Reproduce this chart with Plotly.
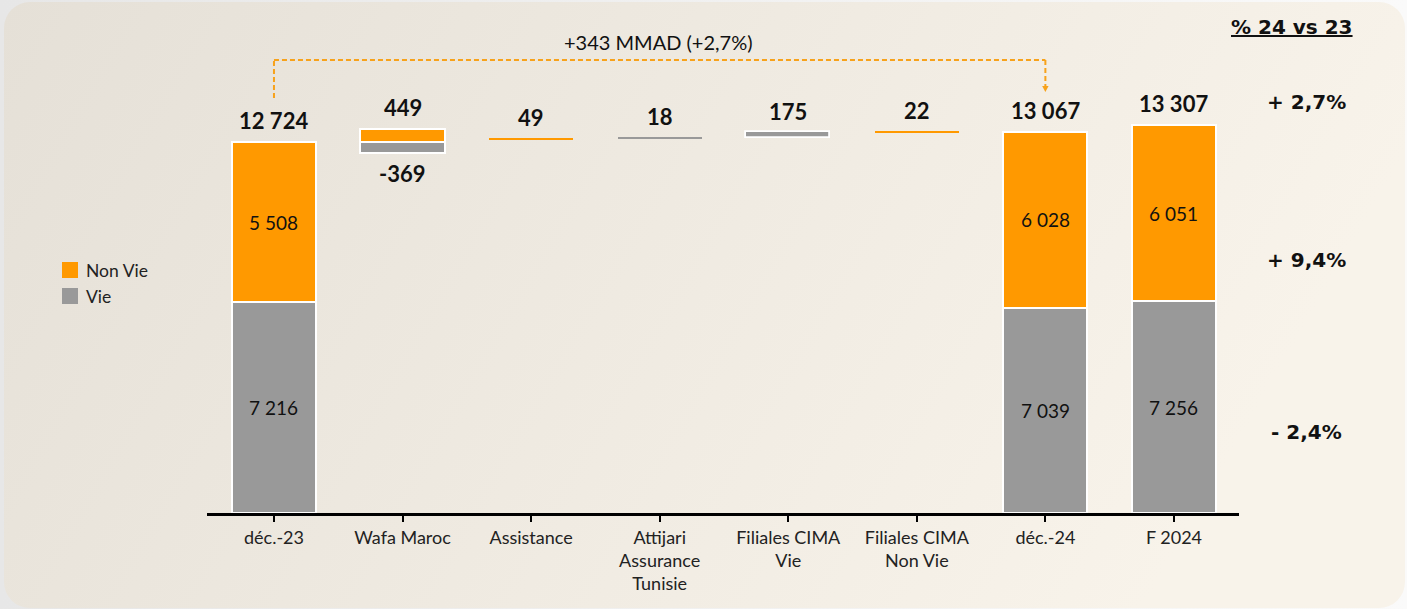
import base64
import plotly.graph_objects as go

# ---------------- data ----------------
categories = ["déc.-23", "Wafa Maroc", "Assistance", "Attijari<br>Assurance<br>Tunisie",
              "Filiales CIMA<br>Vie", "Filiales CIMA<br>Non Vie", "déc.-24", "F 2024"]
kinds = ["total", "delta", "delta", "delta", "delta", "delta", "total", "total"]
non_vie = [5508, 449, 49, None, None, 22, 6028, 6051]
vie = [7216, -369, None, 18, 175, None, 7039, 7256]
series_names = ["Non Vie", "Vie"]
bridge_label = "+343 MMAD (+2,7%)"
pct_header = "% 24 vs 23"
pct_labels = ["+ 2,7%", "+ 9,4%", "- 2,4%"]

ORANGE = "#FF9900"
GREY = "#999999"

# ---------------- layout geometry ----------------
W, H = 1407, 609
L, R, T, B = 207, 168, 90, 96
PW, PH = W - L - R, H - T - B
YMAX = 14500


def py(pix):  # pixel y -> paper y
    return (H - B - pix) / PH


def px(pix):  # pixel x -> paper x
    return (pix - L) / PW


def fmt(v):
    return f"{v:,}".replace(",", " ")


# ---------------- compute bars ----------------
xs = list(range(len(categories)))
nv_x, nv_y, nv_b, nv_lw = [], [], [], []
v_x, v_y, v_b, v_lw = [], [], [], []
annots = []
inside = []
running = None
for i, k in enumerate(kinds):
    if k == "total":
        tv, tn = vie[i], non_vie[i]
        v_x.append(i); v_y.append(tv); v_b.append(0); v_lw.append(2)
        nv_x.append(i); nv_y.append(tn); nv_b.append(tv); nv_lw.append(2)
        inside.append((i, tv / 2, fmt(tv)))
        inside.append((i, tv + tn / 2, fmt(tn)))
        annots.append((i, tv + tn, fmt(tv + tn), 1))
        running = tv + tn
    else:
        dv, dn = vie[i], non_vie[i]
        if dv is not None and dn is not None:
            v_x.append(i); v_y.append(abs(dv)); v_b.append(running + min(dv, 0)); v_lw.append(2)
            nv_x.append(i); nv_y.append(abs(dn)); nv_b.append(running + min(dn, 0)); nv_lw.append(2)
            annots.append((i, running + dn, fmt(dn), 1 if dn > 0 else -1))
            annots.append((i, running + dv, fmt(dv), 1 if dv > 0 else -1))
            running += dv + dn
        else:
            d = dv if dv is not None else dn
            lw = 1.8 if abs(d) > 100 else 0
            base = running + min(d, 0)
            if dv is not None:
                v_x.append(i); v_y.append(abs(d)); v_b.append(base); v_lw.append(lw)
            else:
                nv_x.append(i); nv_y.append(abs(d)); nv_b.append(base); nv_lw.append(lw)
            annots.append((i, running + d, fmt(d), 1 if d > 0 else -1))
            running += d

BAR_W = 0.655
fig = go.Figure()
fig.add_trace(go.Bar(name=series_names[0], x=nv_x, y=nv_y, base=nv_b, width=BAR_W,
                     marker=dict(color=ORANGE, line=dict(color="white", width=nv_lw)),
                     hoverinfo="skip", showlegend=False))
fig.add_trace(go.Bar(name=series_names[1], x=v_x, y=v_y, base=v_b, width=BAR_W,
                     marker=dict(color=GREY, line=dict(color="white", width=v_lw)),
                     hoverinfo="skip", showlegend=False))

CAL = "Lato, Carlito, 'Open Sans', sans-serif"
BOLDW = "'DejaVu Sans', 'Liberation Sans', Arial, sans-serif"
ann = []
for (x, y, txt, d) in annots:
    ann.append(dict(x=x, y=y, xref="x", yref="y", text=f"<b>{txt}</b>", showarrow=False,
                    xanchor="center", yanchor="middle", yshift=21 * d,
                    font=dict(family=CAL, size=22, color="#111111")))
for (x, y, txt) in inside:
    ann.append(dict(x=x, y=y, xref="x", yref="y", text=txt, showarrow=False,
                    xanchor="center", yanchor="middle",
                    font=dict(family=CAL, size=19, color="#111111")))

# bridge label
ann.append(dict(x=px(658), y=py(42), xref="paper", yref="paper", text=bridge_label,
                showarrow=False, xanchor="center", yanchor="middle",
                font=dict(family=CAL, size=20, color="#111111")))
# header + percentages
ann.append(dict(x=px(1292), y=py(27), xref="paper", yref="paper",
                text=f"<b>{pct_header}</b>", showarrow=False, xanchor="center", yanchor="middle",
                font=dict(family=BOLDW, size=20, color="#111111", lineposition="under")))
for txt, ypix in zip(pct_labels, [102, 260, 432]):
    ann.append(dict(x=px(1306), y=py(ypix), xref="paper", yref="paper",
                    text=f"<b>{txt}</b>", showarrow=False, xanchor="center", yanchor="middle",
                    font=dict(family=BOLDW, size=20, color="#111111")))

# manual legend
shapes = []
for name, col, ycen in zip(series_names, [ORANGE, GREY], [270, 296]):
    shapes.append(dict(type="rect", xref="paper", yref="paper",
                       x0=px(62), x1=px(78), y0=py(ycen + 8), y1=py(ycen - 8),
                       fillcolor=col, line=dict(width=0)))
    ann.append(dict(x=px(84), y=py(ycen), xref="paper", yref="paper", text=name,
                    showarrow=False, xanchor="left", yanchor="middle",
                    font=dict(family=CAL, size=17.5, color="#222222")))

DASH_C = "#F7A21B"
shapes += [
    dict(type="line", xref="x", yref="paper", x0=0, x1=0, y0=py(98), y1=py(60),
         line=dict(color=DASH_C, width=2, dash="5px,3px")),
    dict(type="line", xref="x", yref="paper", x0=0, x1=6, y0=py(60), y1=py(60),
         line=dict(color=DASH_C, width=2, dash="5px,3px")),
    dict(type="line", xref="x", yref="paper", x0=6, x1=6, y0=py(60), y1=py(86),
         line=dict(color=DASH_C, width=2, dash="5px,3px")),
    dict(type="path", xref="x", yref="paper",
         path=f"M 5.975,{py(86)} L 6.025,{py(86)} L 6,{py(92)} Z",
         fillcolor=DASH_C, line=dict(width=0)),
]

svg = f"""<svg xmlns='http://www.w3.org/2000/svg' width='{W}' height='{H}'>
<defs>
<linearGradient id='o' x1='0' y1='0' x2='1' y2='0'><stop offset='0' stop-color='#e7e7e7'/><stop offset='1' stop-color='#fafafa'/></linearGradient>
<linearGradient id='g' x1='0' y1='0' x2='1' y2='0.25'><stop offset='0' stop-color='#e5e0d7'/><stop offset='1' stop-color='#f8f3ea'/></linearGradient>
</defs>
<rect width='{W}' height='{H}' fill='url(#o)'/>
<rect x='4' y='2' width='{W-6}' height='{H-3}' rx='26' ry='26' fill='url(#g)'/>
</svg>"""
src = "data:image/svg+xml;base64," + base64.b64encode(svg.encode()).decode()

fig.update_layout(
    width=W, height=H,
    margin=dict(l=L, r=R, t=T, b=B, pad=0),
    paper_bgcolor="#eeebe5", plot_bgcolor="rgba(0,0,0,0)",
    barmode="overlay", bargap=0,
    showlegend=False,
    xaxis=dict(range=[-0.521, 7.506], tickmode="array", tickvals=xs, ticktext=categories,
               showline=True, linecolor="black", linewidth=3, ticks="outside",
               ticklen=6, tickwidth=2, tickcolor="black", showgrid=False, zeroline=False,
               tickfont=dict(family=CAL, size=18, color="#222222"), fixedrange=True),
    yaxis=dict(range=[0, YMAX], visible=False, showgrid=False, zeroline=False, fixedrange=True),
    annotations=ann,
    shapes=shapes,
    images=[dict(source=src, xref="paper", yref="paper", x=-L / PW, y=1 + T / PH,
                 sizex=W / PW, sizey=H / PH, xanchor="left", yanchor="top",
                 sizing="stretch", layer="below")],
)

fig.write_html("out.html", config={"displayModeBar": False},
               post_script="document.body.style.margin='0';document.body.style.overflow='hidden';"
                           "document.body.style.background='#e8e8e8';")
